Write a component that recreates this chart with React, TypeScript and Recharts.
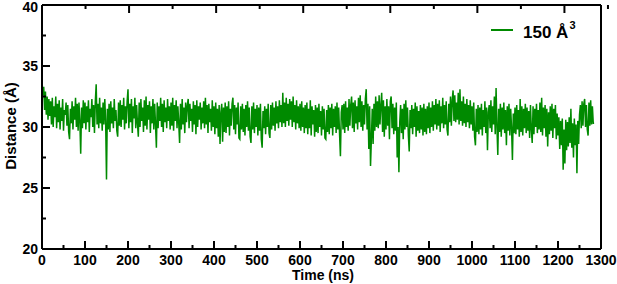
import { LineChart, Line, XAxis, YAxis } from 'recharts';

const STEP = 2; // ns between samples

// distance (Å), one value every 2 ns, grouped by 100 ns
const d0 = [
  33.8, 32.6, 33.3, 31.4, 32.9, 31.0, 32.5, 30.6, 32.3, 30.9,
  32.1, 30.2, 32.4, 30.0, 31.7, 30.8, 32.5, 29.9, 31.9, 30.4,
  32.2, 29.8, 31.6, 30.5, 32.3, 29.7, 31.4, 31.0, 32.0, 30.1,
  31.8, 29.6, 29.0, 31.5, 30.3, 32.1, 29.8, 31.7, 30.6, 32.4,
  30.0, 31.9, 29.7, 32.0, 30.5, 27.8, 31.6, 29.9, 32.2, 30.3,
];
const d100 = [
  32.0, 29.8, 31.7, 30.4, 32.2, 29.6, 31.5, 30.8, 32.3, 30.0,
  31.8, 29.5, 32.1, 33.5, 30.2, 31.9, 29.9, 32.4, 30.3, 31.6,
  29.7, 32.0, 30.2, 32.3, 30.5, 25.7, 31.5, 29.8, 31.9, 29.6,
  32.1, 30.3, 31.6, 29.9, 32.3, 30.5, 31.4, 29.7, 29.2, 32.0,
  30.1, 32.2, 30.0, 31.8, 30.6, 32.4, 29.8, 31.7, 30.3, 32.1,
];
const d200 = [
  33.1, 29.9, 31.9, 30.4, 32.3, 29.5, 31.7, 30.7, 32.4, 29.9,
  31.8, 30.3, 29.2, 32.0, 30.0, 32.3, 30.5, 31.6, 29.6, 32.2,
  30.1, 32.5, 29.8, 31.8, 30.6, 32.1, 29.5, 31.7, 30.3, 32.3,
  29.8, 31.9, 30.2, 28.3, 32.0, 29.9, 31.7, 30.5, 32.4, 30.0,
  31.9, 29.6, 32.2, 30.4, 31.6, 29.9, 32.3, 30.5, 31.7, 29.8,
];
const d300 = [
  32.0, 30.1, 32.4, 29.7, 31.8, 30.5, 32.2, 29.9, 31.7, 30.3,
  28.7, 31.9, 29.8, 32.3, 30.2, 31.6, 29.5, 32.0, 30.4, 31.8,
  32.3, 29.9, 31.9, 30.5, 31.5, 29.6, 32.1, 30.2, 31.8, 29.4,
  32.2, 30.0, 31.7, 30.6, 32.0, 29.8, 31.6, 30.3, 32.1, 29.9,
  32.4, 30.2, 31.8, 29.5, 31.9, 30.4, 31.5, 29.7, 32.2, 30.0,
];
const d400 = [
  31.7, 29.4, 32.0, 29.9, 31.5, 29.2, 31.8, 28.6, 31.2, 31.9,
  28.8, 31.6, 29.6, 32.0, 29.5, 31.7, 30.0, 32.1, 29.3, 31.5,
  30.1, 31.9, 32.4, 29.8, 31.8, 29.4, 31.6, 30.2, 32.0, 29.1,
  29.0, 31.7, 29.8, 31.9, 29.6, 31.5, 29.3, 31.8, 30.0, 32.1,
  29.7, 31.6, 29.2, 28.7, 31.7, 29.8, 32.0, 29.5, 31.5, 30.0,
];
const d500 = [
  31.8, 29.3, 31.6, 29.7, 31.9, 29.0, 28.3, 31.3, 29.9, 31.7,
  29.4, 31.5, 30.0, 31.9, 29.5, 29.1, 31.8, 29.8, 32.0, 30.1,
  31.6, 29.7, 32.1, 30.3, 31.7, 29.9, 32.2, 30.4, 31.8, 30.0,
  32.8, 30.3, 32.0, 30.0, 32.4, 30.5, 31.9, 30.1, 32.3, 30.6,
  32.1, 30.0, 32.5, 30.4, 31.8, 29.8, 32.2, 30.3, 31.7, 29.9,
];
const d600 = [
  31.9, 29.7, 32.1, 30.0, 31.6, 29.5, 31.8, 29.9, 32.0, 29.4,
  31.5, 29.9, 32.2, 29.3, 31.7, 30.2, 31.4, 29.2, 31.8, 29.6,
  31.6, 29.5, 31.9, 30.0, 31.3, 29.3, 31.7, 29.8, 31.5, 29.1,
  29.0, 31.4, 29.6, 31.8, 29.4, 31.6, 29.9, 31.9, 29.3, 31.5,
  30.0, 31.7, 29.5, 32.0, 29.8, 31.6, 29.4, 27.6, 31.2, 31.8,
];
const d700 = [
  29.8, 31.9, 29.5, 32.1, 30.0, 31.6, 29.7, 32.3, 30.1, 31.8,
  32.5, 29.9, 32.0, 29.6, 32.2, 30.3, 31.7, 29.8, 32.4, 30.4,
  32.6, 30.0, 32.1, 29.7, 31.8, 30.2, 32.3, 33.1, 29.8, 31.9,
  28.2, 31.7, 26.8, 29.0, 31.5, 28.6, 31.9, 29.7, 32.5, 30.0,
  32.1, 29.9, 32.6, 30.2, 31.8, 32.8, 29.6, 32.2, 29.2, 31.7,
];
const d800 = [
  29.8, 32.3, 30.1, 31.7, 29.0, 32.1, 32.5, 29.9, 31.9, 29.4,
  31.6, 29.7, 32.0, 27.5, 30.0, 26.3, 30.4, 31.8, 29.5, 31.5,
  29.0, 31.9, 29.8, 32.2, 30.0, 31.6, 29.3, 28.0, 31.4, 29.9,
  31.8, 29.4, 31.5, 30.0, 32.0, 29.2, 31.7, 29.7, 31.3, 29.5,
  31.8, 29.8, 31.6, 29.3, 31.9, 29.6, 31.5, 29.4, 31.7, 29.9,
];
const d900 = [
  32.0, 29.5, 31.6, 30.0, 32.1, 29.7, 31.8, 30.2, 32.3, 29.8,
  31.9, 30.1, 32.2, 29.6, 31.7, 30.3, 32.4, 29.9, 31.8, 30.2,
  32.1, 29.8, 29.3, 31.9, 30.4, 32.5, 30.1, 32.2, 33.0, 30.5,
  32.6, 30.4, 32.0, 30.6, 32.8, 30.2, 33.1, 30.5, 32.1, 30.1,
  32.5, 30.3, 31.9, 30.0, 32.3, 30.4, 31.8, 29.9, 32.2, 30.2,
];
const d1000 = [
  31.7, 29.7, 32.0, 29.2, 28.5, 31.5, 29.6, 31.8, 29.4, 31.6,
  29.8, 31.9, 29.3, 31.4, 30.0, 32.1, 29.5, 31.6, 28.1, 31.2,
  31.8, 29.9, 32.2, 29.6, 31.7, 30.2, 32.5, 29.4, 33.2, 30.0,
  27.7, 31.5, 29.6, 31.9, 29.2, 31.6, 29.8, 32.0, 29.5, 31.4,
  28.5, 31.7, 29.7, 31.9, 29.3, 31.5, 29.9, 27.3, 31.1, 29.5,
];
const d1100 = [
  31.6, 29.4, 31.8, 29.8, 31.4, 29.2, 32.3, 29.6, 31.7, 29.3,
  31.5, 29.9, 31.9, 29.5, 31.6, 29.7, 31.3, 29.1, 31.8, 29.8,
  28.7, 31.7, 29.4, 31.5, 30.0, 31.9, 29.5, 31.4, 29.8, 32.0,
  29.6, 32.4, 29.3, 31.6, 29.9, 31.8, 29.2, 31.5, 28.4, 31.2,
  29.4, 31.7, 29.7, 31.9, 29.1, 31.5, 29.9, 31.8, 29.0, 31.1,
];
const d1200 = [
  29.3, 30.8, 28.2, 30.5, 28.5, 30.7, 26.5, 29.8, 27.0, 30.6,
  28.1, 30.4, 28.4, 30.8, 28.7, 31.5, 28.3, 30.3, 27.5, 30.7,
  28.5, 30.2, 26.2, 30.5, 28.6, 31.0, 31.8, 29.9, 32.1, 30.1,
  31.9, 32.3, 30.0, 31.8, 29.8, 29.3, 32.0, 30.1, 32.2, 30.2,
  31.7, 30.3, 30.3,
];

const distance = [...d0, ...d100, ...d200, ...d300, ...d400, ...d500, ...d600, ...d700, ...d800, ...d900, ...d1000, ...d1100, ...d1200];

const xTicks = [0, 50, 100, 150, 200, 250, 300, 350, 400, 450, 500, 550, 600, 650, 700, 750, 800, 850, 900, 950, 1000, 1050, 1100, 1150, 1200, 1250, 1300];
const yTicks = [20, 22.5, 25, 27.5, 30, 32.5, 35, 37.5, 40];

const data = distance.map((v, i) => ({ time: i * STEP, dist: v }));

const GREEN = '#008a00';
const FONT = '"Liberation Sans", Arial, sans-serif';

const isMajorX = (v: number) => v % 100 === 0;
const isMajorY = (v: number) => v % 5 === 0;

const BottomTick = (props: any) => {
  const { x, y, payload } = props;
  const major = isMajorX(payload.value);
  return (
    <g>
      <line x1={x} x2={x} y1={y} y2={y - (major ? 8 : 4)} stroke="#000" strokeWidth={2} />
      {major && (
        <text x={x} y={y + 16} textAnchor="middle" fontFamily={FONT} fontWeight="bold" fontSize={14} fill="#000">
          {payload.value}
        </text>
      )}
    </g>
  );
};

const TopTick = (props: any) => {
  const { x, y, payload } = props;
  const major = isMajorX(payload.value);
  return <line x1={x} x2={x} y1={y} y2={y + (major ? 8 : 4)} stroke="#000" strokeWidth={2} />;
};

const LeftTick = (props: any) => {
  const { x, y, payload } = props;
  const major = isMajorY(payload.value);
  return (
    <g>
      <line x1={x} x2={x + (major ? 8 : 4)} y1={y} y2={y} stroke="#000" strokeWidth={2} />
      {major && (
        <text x={x - 4} y={Math.max(y + 5, 12)} textAnchor="end" fontFamily={FONT} fontWeight="bold" fontSize={14} fill="#000">
          {payload.value}
        </text>
      )}
    </g>
  );
};

const RightTick = (props: any) => {
  const { x, y, payload } = props;
  const major = isMajorY(payload.value);
  return <line x1={x} x2={x - (major ? 8 : 4)} y1={y} y2={y} stroke="#000" strokeWidth={2} />;
};

export default function App() {
  return (
    <div style={{ position: 'absolute', left: 0, top: 0, width: 617, height: 284, background: '#fff' }}>
      <LineChart width={617} height={284} data={data} margin={{ top: 4, right: 15, bottom: 0, left: 0 }}>
        <XAxis
          dataKey="time"
          type="number"
          domain={[0, 1300]}
          ticks={xTicks}
          interval={0}
          height={35}
          tickSize={0}
          tickMargin={0}
          tickLine={false}
          axisLine={{ stroke: '#000', strokeWidth: 2 }}
          tick={<BottomTick />}
        />
        <XAxis
          xAxisId="top"
          orientation="top"
          type="number"
          domain={[0, 1300]}
          ticks={xTicks}
          interval={0}
          height={1}
          tickSize={0}
          tickMargin={0}
          tickLine={false}
          axisLine={{ stroke: '#000', strokeWidth: 2 }}
          tick={<TopTick />}
        />
        <YAxis
          type="number"
          domain={[20, 40]}
          ticks={yTicks}
          interval={0}
          width={42}
          tickSize={0}
          tickMargin={0}
          tickLine={false}
          axisLine={{ stroke: '#000', strokeWidth: 2 }}
          tick={<LeftTick />}
        />
        <YAxis
          yAxisId="right"
          orientation="right"
          type="number"
          domain={[20, 40]}
          ticks={yTicks}
          interval={0}
          width={1}
          tickSize={0}
          tickMargin={0}
          tickLine={false}
          axisLine={{ stroke: '#000', strokeWidth: 2 }}
          tick={<RightTick />}
        />
        <Line
          type="linear"
          dataKey="dist"
          stroke={GREEN}
          strokeWidth={1.5}
          dot={false}
          isAnimationActive={false}
        />
      </LineChart>
      <svg width={617} height={284} style={{ position: 'absolute', left: 0, top: 0, pointerEvents: 'none' }}>
        <line x1={491} x2={513} y1={30} y2={30} stroke={GREEN} strokeWidth={2} />
        <text x={523} y={38} fontFamily={FONT} fontWeight="bold" fontSize={17} fill="#000">
          150 Å
          <tspan dx={1} dy={-9} fontSize={11}>3</tspan>
        </text>
        <text x={323} y={280} textAnchor="middle" fontFamily={FONT} fontWeight="bold" fontSize={14} fill="#000">
          Time (ns)
        </text>
        <text
          x={16}
          y={126}
          textAnchor="middle"
          transform="rotate(-90, 16, 126)"
          fontFamily={FONT}
          fontWeight="bold"
          fontSize={15}
          fill="#000"
        >
          Distance (Å)
        </text>
      </svg>
    </div>
  );
}
